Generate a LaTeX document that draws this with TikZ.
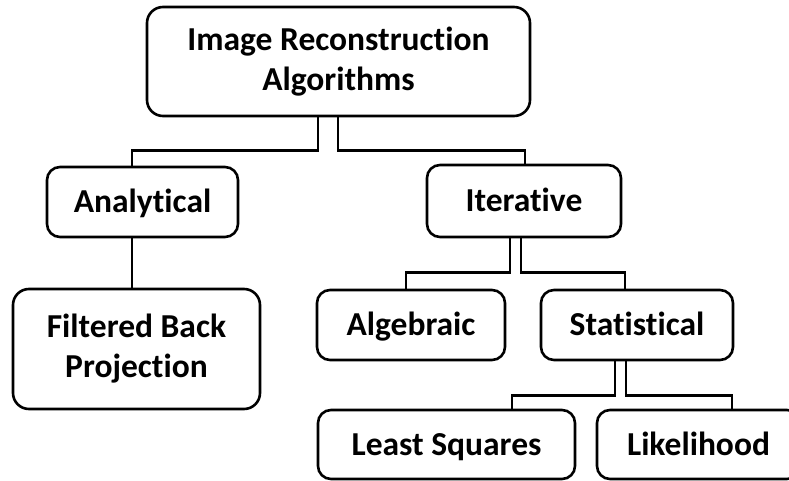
\documentclass[tikz,border=0pt]{standalone}
\usepackage{fontspec}
\setmainfont[Ligatures={NoCommon}]{Carlito}
\begin{document}
\begin{tikzpicture}[x=1pt,y=-1pt,
  box/.style={draw=black, line width=2.6pt, rounded corners=13pt, fill=white,
    inner sep=0pt, align=center, font=\fontsize{33.5}{40}\selectfont\bfseries},
  one/.style={box, text height=21.5pt, text depth=0pt},
  conn/.style={draw=black, line width=2.6pt}]
\useasboundingbox[fill=white] (0,0) rectangle (789,481);
\node[box, minimum width=383pt, minimum height=109pt, rounded corners=16pt] (top) at (338.5,61.5) {Image Reconstruction\\Algorithms};
\node[one, minimum width=191pt, minimum height=70pt] (ana) at (142.5,202) {Analytical};
\node[one, minimum width=194pt, minimum height=72pt] (iter) at (524,201) {Iterative};
\node[box, minimum width=247pt, minimum height=120pt, rounded corners=16pt] (fbp) at (136.5,349) {Filtered Back\\Projection};
\node[one, minimum width=188pt, minimum height=70pt] (alg) at (411,325) {Algebraic};
\node[one, minimum width=192pt, minimum height=70pt] (stat) at (637,325) {Statistical};
\node[one, minimum width=257pt, minimum height=69pt] (ls) at (446.5,444.5) {Least Squares};
\node[one, minimum width=203pt, minimum height=69pt] (lik) at (698.5,444.5) {Likelihood};
% connectors
\draw[conn] ([xshift=-20.5pt]top.south) -- ++(0,33) -| ([xshift=-10.5pt]ana.north);
\draw[conn] ([xshift=-0.5pt]top.south) -- ++(0,33) -| ([xshift=1pt]iter.north);
\draw[conn] ([xshift=-10.5pt]ana.south) -- ([xshift=-4.5pt]fbp.north);
\draw[conn] ([xshift=-14pt]iter.south) -- ++(0,34) -| ([xshift=-5pt]alg.north);
\draw[conn] ([xshift=-3pt]iter.south) -- ++(0,34) -| ([xshift=-12pt]stat.north);
\draw[conn] ([xshift=-22pt]stat.south) -- ++(0,34) -| ([xshift=65.5pt]ls.north);
\draw[conn] ([xshift=-11pt]stat.south) -- ++(0,34) -| ([xshift=33.5pt]lik.north);
\end{tikzpicture}
\end{document}
